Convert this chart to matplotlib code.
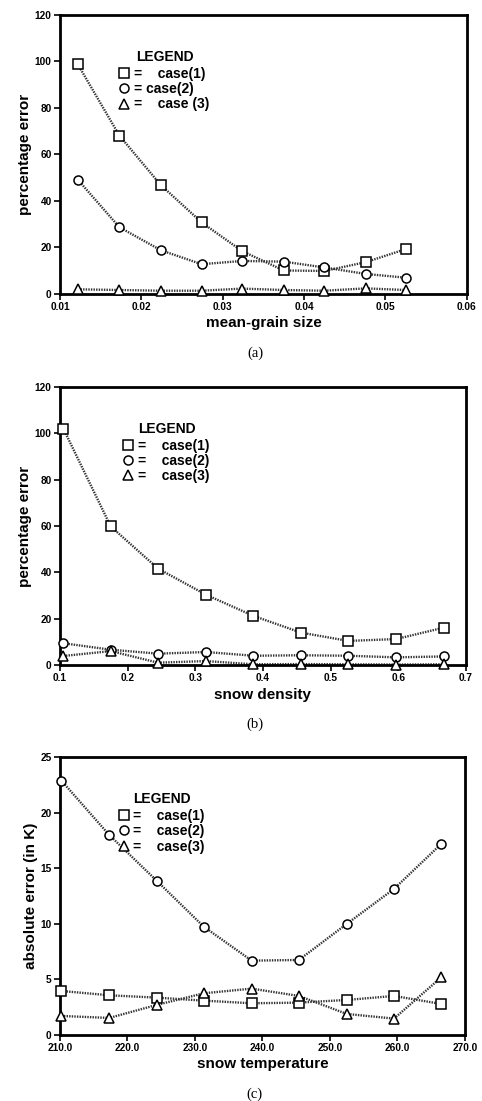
import matplotlib
matplotlib.use('Agg')
from matplotlib import pyplot as plt
from matplotlib.lines import Line2D

plt.rcParams['font.family'] = ['Liberation Sans', 'DejaVu Sans']

# panel (a): percentage error vs mean-grain size
grain_size = [0.0122, 0.0173, 0.0224, 0.0274, 0.0324, 0.0375, 0.0425, 0.0476, 0.0525]
grain_case1 = [98.7, 68.1, 46.8, 30.8, 18.4, 10.1, 9.9, 13.7, 19.3]
grain_case2 = [49.1, 28.7, 18.8, 12.8, 14.2, 13.9, 11.4, 8.6, 7.0]
grain_case3 = [2.0, 1.7, 1.4, 1.4, 2.3, 1.7, 1.4, 2.4, 1.7]

# panel (b): percentage error vs snow density
density = [0.105, 0.175, 0.245, 0.316, 0.386, 0.456, 0.526, 0.597, 0.667]
density_case1 = [102.0, 59.8, 41.6, 30.3, 21.2, 14.0, 10.4, 11.2, 16.1]
density_case2 = [9.4, 6.6, 4.9, 5.6, 4.0, 4.2, 4.0, 3.3, 3.7]
density_case3 = [3.9, 6.0, 1.0, 1.7, 0.3, 0.4, 0.3, 0.2, 0.3]

# panel (c): absolute error vs snow temperature
temperature = [210.2, 217.3, 224.3, 231.3, 238.4, 245.4, 252.5, 259.5, 266.5]
temp_case1 = [3.96, 3.57, 3.36, 3.09, 2.85, 2.91, 3.15, 3.51, 2.79]
temp_case2 = [22.9, 18.0, 13.9, 9.75, 6.69, 6.75, 10.0, 13.15, 17.2]
temp_case3 = [1.71, 1.53, 2.7, 3.75, 4.17, 3.51, 1.89, 1.47, 5.19]

ticks_a = [0.01, 0.02, 0.03, 0.04, 0.05, 0.06]
ticks_b = [0.1, 0.2, 0.3, 0.4, 0.5, 0.6, 0.7]
ticks_c = [210.0, 220.0, 230.0, 240.0, 250.0, 260.0, 270.0]

MARKERS = ['s', 'o', '^']
LINE_STYLE = dict(color='0.2', linewidth=1.7, linestyle=(0, (0.6, 0.5)))


def draw_panel(ax, x, series, ticks, tick_fmt, ylim, ystep, xlabel, ylabel,
               legend_labels, caption, legend_anchor):
    for values, marker in zip(series, MARKERS):
        ax.plot(x, values, **LINE_STYLE, zorder=2)
        ax.plot(x, values, linestyle='none', marker=marker, markersize=6.5,
                markerfacecolor='white', markeredgecolor='black',
                markeredgewidth=1.1, zorder=3, clip_on=False)

    ax.set_xlim(ticks[0], ticks[-1])
    ax.set_ylim(*ylim)
    ax.set_xticks(ticks)
    ax.set_xticklabels([tick_fmt.format(t) for t in ticks])
    yt = list(range(int(ylim[0]), int(ylim[1]) + 1, ystep))
    ax.set_yticks(yt)
    ax.set_yticklabels([str(v) for v in yt])
    ax.tick_params(direction='out', length=4, width=1.2, labelsize=7.3, pad=2)
    for lbl in ax.get_xticklabels() + ax.get_yticklabels():
        lbl.set_fontweight('bold')
    for sp in ax.spines.values():
        sp.set_linewidth(2.0)

    ax.set_xlabel(xlabel, fontsize=11, fontweight='bold', labelpad=3)
    ax.set_ylabel(ylabel, fontsize=11, fontweight='bold', labelpad=2)

    handles = [Line2D([], [], linestyle='none', marker=m, markersize=6.5,
                      markerfacecolor='white', markeredgecolor='black',
                      markeredgewidth=1.1) for m in MARKERS]
    leg = ax.legend(handles, legend_labels, loc='upper left',
                    bbox_to_anchor=legend_anchor, frameon=False,
                    handlelength=0.6, handletextpad=0.4, labelspacing=0.1,
                    borderpad=0, fontsize=10, title='LEGEND',
                    title_fontproperties={'weight': 'bold', 'size': 10})
    leg._legend_box.sep = 2
    for t in leg.get_texts():
        t.set_fontweight('bold')

    ax.text(0.48, -0.19, caption, transform=ax.transAxes, ha='center',
            va='top', fontsize=10.5, family='Liberation Serif')


fig = plt.figure(figsize=(4.82, 11.01), dpi=100)

ax_a = fig.add_axes([0.1245, 0.733, 0.844, 0.2534])
draw_panel(ax_a, grain_size, [grain_case1, grain_case2, grain_case3],
           ticks_a, '{:.2f}', (0, 120), 20, 'mean-grain size', 'percentage error',
           ['=    case(1)', '= case(2)', '=    case (3)'], '(a)', (0.13, 0.90))

ax_b = fig.add_axes([0.1245, 0.396, 0.842, 0.2525])
draw_panel(ax_b, density, [density_case1, density_case2, density_case3],
           ticks_b, '{:.1f}', (0, 120), 20, 'snow density', 'percentage error',
           ['=    case(1)', '=    case(2)', '=    case(3)'], '(b)', (0.14, 0.90))

ax_c = fig.add_axes([0.1245, 0.06, 0.840, 0.2522])
draw_panel(ax_c, temperature, [temp_case1, temp_case2, temp_case3],
           ticks_c, '{:.1f}', (0, 25), 5, 'snow temperature', 'absolute error (in K)',
           ['=    case(1)', '=    case(2)', '=    case(3)'], '(c)', (0.13, 0.90))

fig.savefig('out.png', dpi=100)
